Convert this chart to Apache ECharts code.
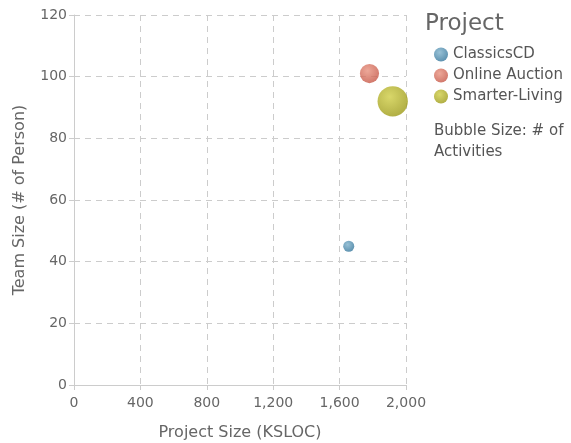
<!DOCTYPE html>
<html>
<head>
<meta charset="utf-8">
<script src="https://cdn.jsdelivr.net/npm/echarts@6/dist/echarts.min.js"></script>
<style>
  html, body { margin: 0; padding: 0; background: #fff; }
  #chart { width: 571px; height: 443px; }
</style>
</head>
<body>
<div id="chart"></div>
<script>
// data
var projects = ["ClassicsCD", "Online Auction", "Smarter-Living"];
var projectSize = [1655, 1780, 1920];   // KSLOC
var teamSize = [45, 101, 92];           // persons
var activities = [10, 30, 75];          // bubble size
var xTicks = [0, 400, 800, 1200, 1600, 2000];
var yTicks = [0, 20, 40, 60, 80, 100, 120];

var baseColors = [
  ["#7fb2cc", "#2c6f96"],
  ["#e8927f", "#c24f3f"],
  ["#cfcd44", "#979411"]
];

function bubble(c) {
  return new echarts.graphic.RadialGradient(0.4, 0.35, 0.75, [
    { offset: 0, color: c[0] },
    { offset: 1, color: c[1] }
  ]);
}

var font = "DejaVu Sans, sans-serif";

var series = projects.map(function (name, i) {
  return {
    name: name,
    type: "scatter",
    data: [[projectSize[i], teamSize[i], activities[i]]],
    symbolSize: function (d) { return Math.sqrt(d[2]) * 3.5; },
    itemStyle: { color: bubble(baseColors[i]) }
  };
});

var chart = echarts.init(document.getElementById("chart"));
chart.setOption({
  animation: false,
  textStyle: { fontFamily: font },
  grid: { left: 74, right: 165, top: 15, bottom: 58, containLabel: false, outerBoundsMode: "none" },
  title: {
    text: "Project",
    left: 420,
    top: 8,
    textStyle: { fontSize: 23, fontWeight: "normal", color: "#666", fontFamily: font }
  },
  legend: {
    orient: "vertical",
    left: 429,
    top: 42,
    itemWidth: 14,
    itemHeight: 14,
    itemGap: 6,
    icon: "circle",
    data: projects,
    textStyle: { fontSize: 15, color: "#555", fontFamily: font }
  },
  graphic: [{
    type: "text",
    left: 434,
    top: 121,
    style: {
      text: "Bubble Size: # of\nActivities",
      fontSize: 15,
      lineHeight: 21,
      fill: "#555",
      fontFamily: font
    }
  }],
  xAxis: {
    type: "value",
    min: xTicks[0],
    max: xTicks[xTicks.length - 1],
    interval: 400,
    name: "Project Size (KSLOC)",
    nameLocation: "middle",
    nameGap: 40,
    nameTextStyle: { fontSize: 16, color: "#666" },
    axisLine: { show: true, lineStyle: { color: "#ccc" } },
    axisTick: { show: true, length: 5, lineStyle: { color: "#ccc" } },
    axisLabel: {
      fontSize: 14, color: "#666", margin: 11,
      formatter: function (v) { return v.toLocaleString("en-US"); }
    },
    splitLine: { show: true, lineStyle: { color: "#ccc", type: [6, 5] } }
  },
  yAxis: {
    type: "value",
    min: yTicks[0],
    max: yTicks[yTicks.length - 1],
    interval: 20,
    name: "Team Size (# of Person)",
    nameLocation: "middle",
    nameGap: 46,
    nameTextStyle: { fontSize: 16, color: "#666" },
    axisLine: { show: true, lineStyle: { color: "#ccc" } },
    axisTick: { show: true, length: 5, lineStyle: { color: "#ccc" } },
    axisLabel: { fontSize: 14, color: "#666", margin: 7 },
    splitLine: { show: true, lineStyle: { color: "#ccc", type: [6, 5] } }
  },
  series: series
});
</script>
</body>
</html>
